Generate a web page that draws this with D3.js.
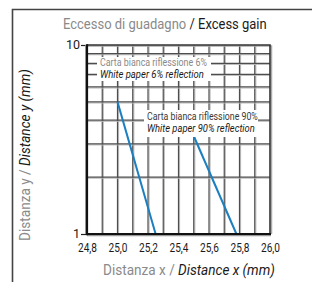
<!DOCTYPE html>
<html><head><meta charset="utf-8">
<script src="https://cdn.jsdelivr.net/npm/d3@7"></script>
<style>html,body{margin:0;padding:0;background:#fff;}svg{display:block;}</style>
</head><body>
<svg id="c" width="312" height="282"></svg>
<script>
// ---- data ----
const xTickValues = [24.8, 25.0, 25.2, 25.4, 25.6, 25.8, 26.0];
const xTickLabels = ["24,8", "25,0", "25,2", "25,4", "25,6", "25,8", "26,0"];
const xGridValues = [24.9, 25.0, 25.1, 25.2, 25.3, 25.4, 25.5, 25.6, 25.7, 25.8, 25.9];
const yTickValues = [1, 10];
const yTickLabels = ["1", "10"];
const yGridValues = [2, 3, 4, 5, 6, 7, 8, 9];
const series6X = [25.0, 25.25];
const series6Y = [5.0, 1.0];
const series90X = [25.5, 25.78];
const series90Y = [3.3, 1.0];
const titleIt = "Eccesso di guadagno ";
const titleEn = "/ Excess gain";
const xTitleIt = "Distanza x / ";
const xTitleEn = "Distance x (mm)";
const yTitleIt = "Distanza y / ";
const yTitleEn = "Distance y (mm)";
const label6It = "Carta bianca riflessione 6%";
const label6En = "White paper 6% reflection";
const label90It = "Carta bianca riflessione 90%";
const label90En = "White paper 90% reflection";

const svg = d3.select("#c");
const FONT = "'Liberation Sans Narrow','Roboto','Liberation Sans',Arial,sans-serif";
const L = 87, R = 270, T = 45, B = 234;
const x = d3.scaleLinear().domain([24.8, 26.0]).range([L, R]);
const y = d3.scaleLog().domain([1, 10]).range([B, T]);

// outer frame
svg.append("path").attr("d", "M12.5,282V9.5H312").attr("fill", "none").attr("stroke", "#444").attr("stroke-width", 1.6);

// text fitted to a width via horizontal scale (keeps real text)
function fitText(parent, parts, xx, yy, width, size, anchor) {
  const g = parent.append("g");
  const t = g.append("text").attr("x", 0).attr("y", 0)
    .attr("font-family", FONT).attr("font-size", size);
  parts.forEach(p => t.append("tspan").attr("fill", p.fill)
    .attr("font-style", p.italic ? "italic" : "normal").text(p.s));
  const w = t.node().getComputedTextLength();
  const s = width / w;
  let x0 = xx;
  if (anchor === "middle") x0 = xx - width / 2;
  if (anchor === "end") x0 = xx - width;
  g.attr("transform", `translate(${x0},${yy}) scale(${s},1)`);
  return g;
}

// title
fitText(svg, [{s: titleIt, fill: "#8a8a8a"}, {s: titleEn, fill: "#1a1a1a"}], 63, 29, 204, 15);

// grid
const grid = svg.append("g");
xGridValues.forEach(v => {
  grid.append("line").attr("x1", x(v) + 1.1).attr("x2", x(v) + 1.1).attr("y1", T).attr("y2", B)
    .attr("stroke", "#b8b8b8").attr("stroke-width", 1);
  grid.append("line").attr("x1", x(v)).attr("x2", x(v)).attr("y1", T).attr("y2", B)
    .attr("stroke", "#4d4d4d").attr("stroke-width", 1.2);
});
yGridValues.forEach(v => {
  grid.append("line").attr("x1", L).attr("x2", R).attr("y1", y(v) + 1.1).attr("y2", y(v) + 1.1)
    .attr("stroke", "#b8b8b8").attr("stroke-width", 1);
  grid.append("line").attr("x1", L).attr("x2", R).attr("y1", y(v)).attr("y2", y(v))
    .attr("stroke", "#4d4d4d").attr("stroke-width", 1.2);
});

// series lines
const line = d3.line().x(d => x(d[0])).y(d => y(d[1]));
svg.append("path").datum(d3.zip(series6X, series6Y)).attr("d", line)
  .attr("fill", "none").attr("stroke", "#1b7fc0").attr("stroke-width", 2);
svg.append("path").datum(d3.zip(series90X, series90Y)).attr("d", line)
  .attr("fill", "none").attr("stroke", "#1b7fc0").attr("stroke-width", 2);

// label boxes
svg.append("rect").attr("x", 97).attr("y", 57).attr("width", 114).attr("height", 24).attr("fill", "#fff");
fitText(svg, [{s: label6It, fill: "#8a8a8a"}], 100, 66, 107, 10.5);
fitText(svg, [{s: label6En, fill: "#1a1a1a", italic: true}], 100, 78, 104, 10.5);
svg.append("rect").attr("x", 144).attr("y", 110).attr("width", 114).attr("height", 27).attr("fill", "#fff");
fitText(svg, [{s: label90It, fill: "#3a3a3a"}], 147, 120, 111, 10.5);
fitText(svg, [{s: label90En, fill: "#1a1a1a", italic: true}], 147, 132, 108, 10.5);

// frame top/right
svg.append("path").attr("d", `M${L},${T + 1}H${R + 1.5}V${B}`).attr("fill", "none").attr("stroke", "#aaa").attr("stroke-width", 1.5);
svg.append("path").attr("d", `M${L},${T}H${R}V${B}`).attr("fill", "none").attr("stroke", "#333").attr("stroke-width", 1.6);

// axes (left & bottom)
const xAxis = d3.axisBottom(x).tickValues(xTickValues).tickSize(0).tickPadding(10)
  .tickFormat((d, i) => xTickLabels[i]);
const gx = svg.append("g").attr("transform", `translate(0,${B})`).call(xAxis);
gx.select(".domain").remove();
gx.selectAll("text").attr("font-family", FONT).attr("font-size", 12.5).attr("fill", "#1a1a1a")
  .attr("dy", "0.71em").attr("y", 9.5)
  .each(function() {
    const w = this.getComputedTextLength();
    const s = 19 / w;
    d3.select(this).attr("transform", `scale(${s},1)`);
  });

const yAxis = d3.axisLeft(y).tickValues(yTickValues).tickSize(6).tickPadding(1)
  .tickFormat((d, i) => yTickLabels[i]);
const gy = svg.append("g").attr("transform", `translate(${L},0)`).call(yAxis);
gy.select(".domain").remove();
gy.selectAll("line").attr("stroke", "#222").attr("stroke-width", 1.2);
gy.selectAll("text").attr("font-family", FONT).attr("font-size", 12.5).attr("fill", "#1a1a1a")
  .attr("dy", "0.3em");

svg.append("line").attr("x1", L).attr("x2", R + 1).attr("y1", B + 1.6).attr("y2", B + 1.6).attr("stroke", "#999").attr("stroke-width", 1.2);
svg.append("line").attr("x1", L - 1.3).attr("x2", L - 1.3).attr("y1", T).attr("y2", B).attr("stroke", "#999").attr("stroke-width", 1.2);
svg.append("line").attr("x1", L).attr("x2", L).attr("y1", T - 0.8).attr("y2", B + 1.2).attr("stroke", "#111").attr("stroke-width", 2.2);
svg.append("line").attr("x1", L - 1).attr("x2", R + 1).attr("y1", B).attr("y2", B).attr("stroke", "#111").attr("stroke-width", 2.2);

// x title
fitText(svg, [{s: xTitleIt, fill: "#8a8a8a"}, {s: xTitleEn, fill: "#1a1a1a", italic: true}], 103, 275, 172, 14);

// y title (rotated)
const gt = svg.append("g").attr("transform", "translate(30,0) rotate(-90)");
fitText(gt, [{s: yTitleIt, fill: "#8a8a8a"}, {s: yTitleEn, fill: "#1a1a1a", italic: true}], -241, 0, 172, 14);
</script>
</body></html>
